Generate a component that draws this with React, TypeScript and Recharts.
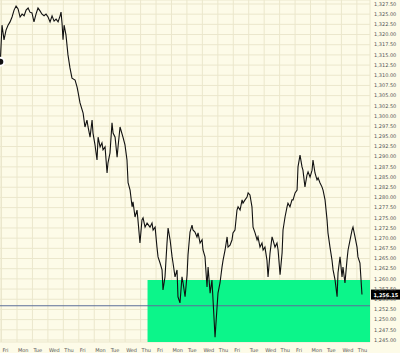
import React from 'react';
import {
  ComposedChart,
  Line,
  XAxis,
  YAxis,
  CartesianGrid,
  ReferenceArea,
  ReferenceLine
} from 'recharts';

// trading day labels, one per session (Monday holiday in week four)
const dayLabels = [
  'Fri', 'Mon', 'Tue', 'Wed', 'Thu', 'Fri', 'Mon', 'Tue', 'Wed', 'Thu',
  'Fri', 'Mon', 'Tue', 'Wed', 'Thu', 'Fri', 'Tue', 'Wed', 'Thu', 'Fri',
  'Mon', 'Tue', 'Wed', 'Thu'
];

// time in sessions since the first Friday open
const times = [
  -0.08, 0.03, 0.16, 0.29, 0.42, 0.55, 0.68, 0.81, 0.94, 1.07, 1.2, 1.33, 1.46, 1.59, 1.72,
  1.84, 1.97, 2.1, 2.23, 2.36, 2.49, 2.62, 2.75, 2.88, 3.01, 3.14, 3.27, 3.4, 3.53, 3.66,
  3.79, 3.85, 3.92, 3.98, 4.05, 4.17, 4.3, 4.43, 4.56, 4.76, 4.89, 4.95, 5.08, 5.28, 5.4,
  5.53, 5.6, 5.73, 5.86, 5.92, 6.05, 6.18, 6.25, 6.38, 6.5, 6.57, 6.7, 6.83, 6.89, 7.02,
  7.15, 7.22, 7.35, 7.48, 7.54, 7.67, 7.86, 7.99, 8.12, 8.19, 8.32, 8.45, 8.51, 8.64, 8.77,
  8.83, 8.96, 9.09, 9.16, 9.29, 9.42, 9.61, 9.74, 9.81, 9.94, 10.06, 10.13, 10.26, 10.39, 10.45,
  10.58, 10.71, 10.78, 10.91, 11.04, 11.1, 11.23, 11.36, 11.42, 11.55, 11.68, 11.75, 11.88, 12.01, 12.07,
  12.2, 12.33, 12.39, 12.52, 12.65, 12.72, 12.85, 12.98, 13.04, 13.17, 13.3, 13.37, 13.5, 13.62, 13.69,
  13.82, 13.95, 14.01, 14.14, 14.27, 14.34, 14.47, 14.6, 14.66, 14.79, 14.92, 14.98, 15.11, 15.24, 15.31,
  15.44, 15.57, 15.63, 15.76, 15.89, 15.96, 16.08, 16.21, 16.28, 16.41, 16.54, 16.6, 16.73, 16.86, 16.93,
  17.05, 17.18, 17.25, 17.38, 17.51, 17.57, 17.7, 17.83, 17.9, 18.03, 18.16, 18.22, 18.35, 18.48, 18.54,
  18.67, 18.8, 18.87, 19.0, 19.13, 19.19, 19.32, 19.45, 19.51, 19.64, 19.77, 19.84, 19.97, 20.1, 20.16,
  20.29, 20.42, 20.49, 20.61, 20.74, 20.81, 20.94, 21.07, 21.13, 21.26, 21.39, 21.46, 21.59, 21.72, 21.78,
  21.91, 22.04, 22.1, 22.23, 22.36, 22.43, 22.56, 22.69, 22.75, 22.88, 23.01, 23.07, 23.2, 23.33
];

const prices = [
  1313.3, 1322.3, 1318.7, 1321.1, 1322.3, 1323.1, 1324.3, 1326.0, 1327.0, 1326.3, 1324.3, 1325.0, 1324.6, 1326.0, 1326.5,
  1325.5, 1325.3, 1323.1, 1325.0, 1326.5, 1325.8, 1325.0, 1324.6, 1325.0, 1324.3, 1323.1, 1324.6, 1323.3, 1323.8, 1323.1,
  1324.6, 1325.5, 1322.6, 1318.7, 1322.3, 1319.9, 1315.0, 1311.8, 1309.3, 1308.8, 1307.1, 1305.9, 1303.2, 1300.7, 1297.3,
  1299.0, 1297.3, 1294.8, 1299.0, 1295.8, 1292.9, 1289.2, 1294.8, 1292.4, 1293.4, 1291.7, 1292.4, 1286.0, 1288.5, 1290.9,
  1298.3, 1295.8, 1294.8, 1289.9, 1292.4, 1297.3, 1294.8, 1292.9, 1289.2, 1283.6, 1281.8, 1277.7, 1278.9, 1275.2, 1276.9,
  1274.5, 1268.8, 1274.5, 1275.0, 1272.7, 1273.7, 1272.7, 1273.7, 1272.0, 1272.7, 1267.8, 1265.4, 1263.9, 1262.2, 1257.3,
  1260.5, 1268.8, 1272.5, 1269.6, 1265.4, 1263.9, 1260.5, 1262.2, 1255.6, 1254.1, 1260.5, 1259.0, 1255.6, 1261.0, 1265.9,
  1271.5, 1273.2, 1272.0, 1271.5, 1270.3, 1271.3, 1268.8, 1269.6, 1267.1, 1265.4, 1258.0, 1262.9, 1256.5, 1259.7, 1254.8,
  1245.7, 1253.1, 1256.5, 1259.0, 1262.9, 1264.6, 1267.1, 1270.3, 1267.8, 1268.3, 1269.6, 1271.3, 1272.0, 1276.9, 1277.7,
  1276.9, 1279.4, 1278.6, 1279.4, 1280.1, 1281.1, 1280.6, 1277.7, 1272.7, 1271.3, 1269.6, 1270.3, 1267.8, 1268.8, 1267.1,
  1267.8, 1264.6, 1260.5, 1266.4, 1270.3, 1269.6, 1267.8, 1268.8, 1267.1, 1261.0, 1266.4, 1272.0, 1275.2, 1277.7, 1278.6,
  1277.7, 1279.4, 1279.4, 1281.1, 1281.8, 1287.5, 1290.4, 1287.5, 1286.7, 1282.6, 1285.5, 1286.3, 1285.0, 1286.7, 1289.2,
  1286.0, 1284.3, 1284.8, 1283.6, 1282.6, 1281.8, 1279.4, 1274.5, 1271.3, 1267.8, 1264.6, 1262.2, 1259.7, 1255.6, 1261.5,
  1265.4, 1260.5, 1262.9, 1259.0, 1264.6, 1267.1, 1269.6, 1272.0, 1272.7, 1270.3, 1267.8, 1265.4, 1263.9, 1256.15
];

const lastPrice = 1256.15;
const supportTop = 1259.75;
const supportStart = 9.45;
const baseline = 1253.4;

const priceTicks: number[] = [];
for (let v = 1245; v <= 1327.5; v += 2.5) priceTicks.push(v);
const dayTicks = dayLabels.map((_, i) => i);

const data = times.map((t, i) => ({ t, price: prices[i] }));

const fmt = (v: number) =>
  v.toLocaleString('en-US', { minimumFractionDigits: 2, maximumFractionDigits: 2 });

const DayTick = (props: any) => {
  const { x, y, payload } = props;
  return (
    <text x={x + 1} y={y + 8} fontSize={5} fill="#555" fontFamily="DejaVu Sans" textAnchor="start">
      {dayLabels[payload.value]}
    </text>
  );
};

const LastPriceTag = (props: any) => {
  const { x, y, width } = props.viewBox;
  const left = x + width + 1;
  return (
    <g>
      <rect x={left} y={y - 5} width={29} height={10} fill="#000" />
      <text
        x={left + 2.5}
        y={y}
        dominantBaseline="central"
        fontSize={5}
        fontWeight="bold"
        fill="#fff"
        fontFamily="DejaVu Sans"
      >
        {fmt(lastPrice)}
      </text>
    </g>
  );
};

const App: React.FC = () => {
  return (
    <div style={{ position: 'fixed', top: 0, left: 0, width: 400, height: 353, background: '#fdfbe8' }}>
      <ComposedChart width={400} height={353} data={data} margin={{ top: 0, right: 0, left: 0, bottom: 0 }}>
        <CartesianGrid stroke="#ebe7cc" strokeWidth={1} />
        <XAxis
          dataKey="t"
          type="number"
          domain={[-0.1, 23.85]}
          ticks={dayTicks}
          interval={0}
          allowDataOverflow
          axisLine={false}
          tickLine={false}
          tickSize={0}
          height={11}
          tick={<DayTick />}
        />
        <YAxis
          orientation="right"
          type="number"
          domain={[1244.5, 1328.48]}
          ticks={priceTicks}
          interval={0}
          allowDataOverflow
          axisLine={false}
          tickLine={false}
          tickSize={0}
          tickMargin={4}
          width={30}
          tickFormatter={fmt}
          tick={{ fontSize: 5, fill: '#555', fontFamily: 'DejaVu Sans' }}
        />
        <ReferenceArea
          x1={supportStart}
          x2={23.85}
          y1={1244.5}
          y2={supportTop}
          fill="#0cf58a"
          fillOpacity={1}
          stroke="none"
          ifOverflow="hidden"
        />
        <ReferenceLine y={baseline} stroke="#5b6e99" strokeWidth={1} />
        <Line
          type="linear"
          dataKey="price"
          stroke="#111"
          strokeWidth={1.1}
          dot={false}
          isAnimationActive={false}
        />
        <ReferenceLine y={lastPrice} stroke="none" label={<LastPriceTag />} />
      </ComposedChart>
    </div>
  );
};

export default App;
